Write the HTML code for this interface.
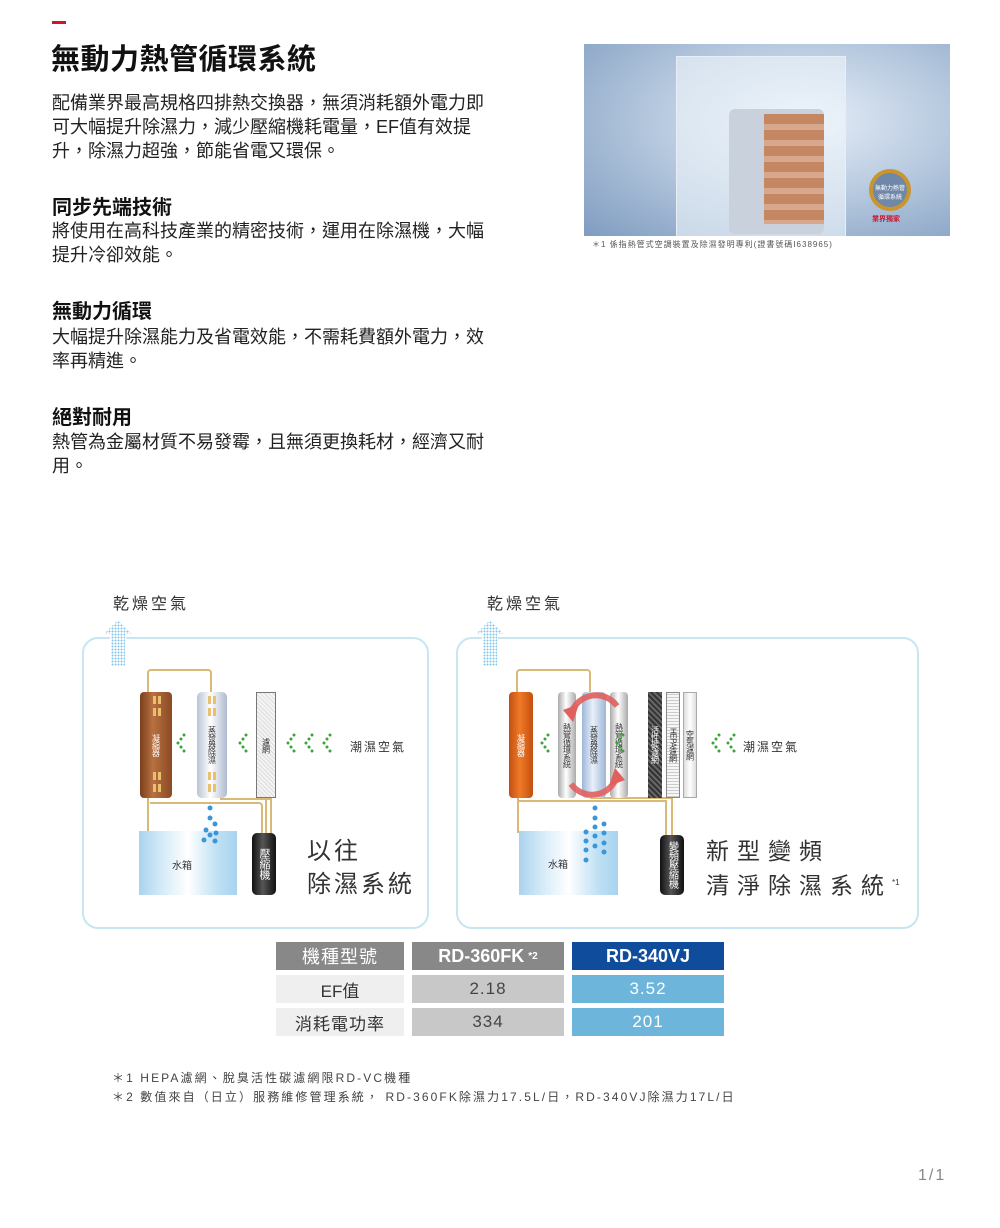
<!DOCTYPE html>
<html><head><meta charset="utf-8">
<style>
*{margin:0;padding:0;box-sizing:border-box}
body{width:1000px;height:1228px;background:#fff;position:relative;font-family:"Liberation Sans","Noto Sans CJK TC",sans-serif;color:#222;overflow:hidden}
.a{position:absolute}
.p{font-size:18px;line-height:24px;color:#222;white-space:nowrap}
.h{font-size:20px;font-weight:bold;color:#111}
.box{border:2px solid #c7e6f2;border-radius:16px}
.v{writing-mode:vertical-rl;font-size:8px;line-height:9px;display:flex;align-items:center;justify-content:center;letter-spacing:-0.5px;overflow:hidden}
.slot{position:absolute;width:3px;height:8px;background:#e8c070}
.pipe{position:absolute;border:2px solid #d9b878}
.tank{position:absolute;background:linear-gradient(90deg,#a9d3ee 0%,#cfe8f7 20%,#fff 50%,#bfe0f4 80%,#a9d3ee 100%);font-size:10px;color:#333}
.up{position:absolute;width:32px;height:48px}
.td{position:absolute;display:flex;align-items:center;justify-content:center;font-size:17px}
</style></head><body>
<div class="a" style="left:52px;top:21px;width:14px;height:3px;background:#d0142c"></div>
<div class="a" style="left:51px;top:36px;font-size:29px;font-weight:bold;color:#111;letter-spacing:0.5px">無動力熱管循環系統</div>
<div class="a p" style="left:52px;top:91px">配備業界最高規格四排熱交換器，無須消耗額外電力即<br>可大幅提升除濕力，減少壓縮機耗電量，EF值有效提<br>升，除濕力超強，節能省電又環保。</div>
<div class="a h" style="left:52px;top:191px">同步先端技術</div>
<div class="a p" style="left:52px;top:219px">將使用在高科技產業的精密技術，運用在除濕機，大幅<br>提升冷卻效能。</div>
<div class="a h" style="left:52px;top:295px">無動力循環</div>
<div class="a p" style="left:52px;top:325px">大幅提升除濕能力及省電效能，不需耗費額外電力，效<br>率再精進。</div>
<div class="a h" style="left:52px;top:401px">絕對耐用</div>
<div class="a p" style="left:52px;top:430px">熱管為金屬材質不易發霉，且無須更換耗材，經濟又耐<br>用。</div>

<!-- photo -->
<div class="a" style="left:584px;top:44px;width:366px;height:192px;background:radial-gradient(ellipse at 60% 40%,#e6eef8 0%,#b9cbe0 45%,#7f9cc0 100%);overflow:hidden">
 <div class="a" style="left:92px;top:12px;width:170px;height:185px;background:rgba(240,246,252,0.6);border:1px solid #e8eef6"></div>
 <div class="a" style="left:145px;top:65px;width:95px;height:125px;background:#c9d2dc;border-radius:6px"></div>
 <div class="a" style="left:180px;top:70px;width:60px;height:110px;background:repeating-linear-gradient(180deg,#c47a4c 0 10px,#d9a080 10px 16px);opacity:.85"></div>
 <div class="a" style="left:285px;top:125px;width:42px;height:42px;border-radius:50%;border:4px solid #c9952e;background:#6f88a8;font-size:6px;color:#fff;text-align:center;padding-top:10px">無動力熱管<br>循環系統</div>
 <div class="a" style="left:288px;top:170px;font-size:7px;color:#d0142c;font-weight:bold">業界獨家</div>
</div>
<div class="a" style="left:592px;top:239px;font-size:8px;color:#555;letter-spacing:1px">＊1 係指熱管式空調裝置及除濕發明專利(證書號碼I638965)</div>

<div class="a" style="left:113px;top:590px;font-size:16px;letter-spacing:3px;color:#333">乾燥空氣</div>
<div class="a" style="left:487px;top:590px;font-size:16px;letter-spacing:3px;color:#333">乾燥空氣</div>

<div class="a box" style="left:82px;top:637px;width:347px;height:292px"></div>
<div class="a box" style="left:456px;top:637px;width:463px;height:292px"></div>

<svg class="up" style="left:102px;top:618px" viewBox="0 0 32 48"><defs><pattern id="dp" width="3" height="3" patternUnits="userSpaceOnUse"><circle cx="1.5" cy="1.5" r="1" fill="#7cc4ea"/></pattern></defs><polygon points="16,0 32,16 24,16 24,48 8,48 8,16 0,16" fill="#fff"/><polygon points="16,2 30,16 23,16 23,48 9,48 9,16 2,16" fill="url(#dp)"/></svg>
<svg class="up" style="left:474px;top:618px" viewBox="0 0 32 48"><polygon points="16,0 32,16 24,16 24,48 8,48 8,16 0,16" fill="#fff"/><polygon points="16,2 30,16 23,16 23,48 9,48 9,16 2,16" fill="url(#dp)"/></svg>

<!-- LEFT diagram -->
<div class="pipe" style="left:147px;top:669px;width:65px;height:28px;border-bottom:none;border-radius:4px 4px 0 0"></div>
<div class="pipe" style="left:147px;top:795px;width:120px;height:40px;border-top:none;border-left:2px solid #d9b878;border-right:2px solid #d9b878;border-bottom:none"></div>
<div class="pipe" style="left:150px;top:802px;width:113px;height:33px;border-left:none;border-bottom:none;border-radius:0 4px 0 0"></div>
<div class="pipe" style="left:220px;top:798px;width:52px;height:38px;border-left:none;border-bottom:none"></div>
<div class="a v" style="left:140px;top:692px;width:32px;height:106px;background:linear-gradient(90deg,#7a3e1c,#b87040 40%,#8a4a24);border-radius:4px;color:#fff">凝縮器</div>
<div class="a v" style="left:197px;top:692px;width:30px;height:106px;background:linear-gradient(90deg,#b9c4d4,#fff 45%,#aebace);border-radius:5px;color:#333">蒸發器除濕</div>
<div class="slot" style="left:153px;top:696px"></div><div class="slot" style="left:158px;top:696px"></div><div class="slot" style="left:153px;top:708px"></div><div class="slot" style="left:158px;top:708px"></div><div class="slot" style="left:153px;top:772px"></div><div class="slot" style="left:158px;top:772px"></div><div class="slot" style="left:153px;top:784px"></div><div class="slot" style="left:158px;top:784px"></div>
<div class="slot" style="left:208px;top:696px"></div><div class="slot" style="left:213px;top:696px"></div><div class="slot" style="left:208px;top:708px"></div><div class="slot" style="left:213px;top:708px"></div><div class="slot" style="left:208px;top:772px"></div><div class="slot" style="left:213px;top:772px"></div><div class="slot" style="left:208px;top:784px"></div><div class="slot" style="left:213px;top:784px"></div>
<div class="a v" style="left:256px;top:692px;width:20px;height:106px;background:repeating-linear-gradient(45deg,#ddd 0 1px,#f4f4f4 1px 3px);border:1px solid #777;color:#333">濾網</div>
<svg class="a" style="left:174px;top:732px" width="200" height="26"><g fill="#3aa33a">
<circle cx="10" cy="3" r="1.5"/><circle cx="7" cy="7" r="1.5"/><circle cx="4" cy="11" r="1.5"/><circle cx="7" cy="15" r="1.5"/><circle cx="10" cy="19" r="1.5"/>
<circle cx="72" cy="3" r="1.5"/><circle cx="69" cy="7" r="1.5"/><circle cx="66" cy="11" r="1.5"/><circle cx="69" cy="15" r="1.5"/><circle cx="72" cy="19" r="1.5"/>
<circle cx="120" cy="3" r="1.5"/><circle cx="117" cy="7" r="1.5"/><circle cx="114" cy="11" r="1.5"/><circle cx="117" cy="15" r="1.5"/><circle cx="120" cy="19" r="1.5"/>
<circle cx="138" cy="3" r="1.5"/><circle cx="135" cy="7" r="1.5"/><circle cx="132" cy="11" r="1.5"/><circle cx="135" cy="15" r="1.5"/><circle cx="138" cy="19" r="1.5"/>
<circle cx="156" cy="3" r="1.5"/><circle cx="153" cy="7" r="1.5"/><circle cx="150" cy="11" r="1.5"/><circle cx="153" cy="15" r="1.5"/><circle cx="156" cy="19" r="1.5"/></g></svg>
<div class="a" style="left:350px;top:738px;font-size:12px;letter-spacing:2px;color:#333">潮濕空氣</div>
<div class="tank" style="left:139px;top:831px;width:98px;height:64px"><span class="a" style="left:33px;top:26px">水箱</span></div>
<svg class="a" style="left:198px;top:803px" width="30" height="48"><g fill="#3a96d8"><circle cx="12" cy="5" r="2.5"/><circle cx="12" cy="15" r="2.5"/><circle cx="17" cy="21" r="2.5"/><circle cx="8" cy="27" r="2.5"/><circle cx="18" cy="30" r="2.5"/><circle cx="12" cy="32" r="2.5"/><circle cx="6" cy="37" r="2.5"/><circle cx="17" cy="38" r="2.5"/></g></svg>
<div class="a v" style="left:252px;top:833px;width:24px;height:62px;background:linear-gradient(90deg,#111,#555 45%,#111);border-radius:5px;color:#fff;font-size:11px;line-height:12px">壓縮機</div>
<div class="a" style="left:307px;top:835px;font-size:24px;letter-spacing:3px;color:#333;line-height:33px">以往<br>除濕系統</div>

<!-- RIGHT diagram -->
<div class="pipe" style="left:516px;top:669px;width:75px;height:28px;border-bottom:none;border-radius:4px 4px 0 0"></div>
<div class="pipe" style="left:517px;top:795px;width:150px;height:38px;border-top:none;border-left:2px solid #d9b878;border-bottom:none;border-right:none"></div>
<div class="pipe" style="left:519px;top:800px;width:148px;height:38px;border-left:none;border-bottom:none"></div>
<div class="pipe" style="left:590px;top:797px;width:83px;height:40px;border-left:none;border-bottom:none"></div>
<div class="a v" style="left:509px;top:692px;width:24px;height:106px;background:linear-gradient(90deg,#c24f10,#f07a28 45%,#c24f10);border-radius:4px;color:#fff">凝縮器</div>
<div class="a v" style="left:558px;top:692px;width:18px;height:106px;background:linear-gradient(90deg,#aaa,#fff 45%,#aaa);border-radius:4px;color:#333">熱管循環系統</div>
<div class="a v" style="left:582px;top:692px;width:24px;height:106px;background:linear-gradient(90deg,#9eb6d8,#e8f0fa 45%,#9eb6d8);border-radius:4px;color:#333">蒸發器除濕</div>
<div class="a v" style="left:610px;top:692px;width:18px;height:106px;background:linear-gradient(90deg,#aaa,#fff 45%,#aaa);border-radius:4px;color:#333">熱管循環系統</div>
<svg class="a" style="left:555px;top:684px" width="78" height="122"><g fill="none" stroke="#e0605e" stroke-width="6" opacity=".9"><path d="M16,30 A26,26 0 0 1 62,22"/><path d="M62,92 A26,26 0 0 1 16,100"/></g><polygon points="8,26 24,20 18,38" fill="#e0605e"/><polygon points="70,96 54,102 60,84" fill="#e0605e"/></svg>
<div class="a v" style="left:648px;top:692px;width:14px;height:106px;background:repeating-linear-gradient(45deg,#333 0 2px,#666 2px 4px);color:#fff">活性碳濾網</div>
<div class="a v" style="left:666px;top:692px;width:14px;height:106px;background:repeating-linear-gradient(0deg,#ccc 0 1px,#f6f6f6 1px 3px);border:1px solid #888;color:#333">HEPA濾網</div>
<div class="a v" style="left:683px;top:692px;width:14px;height:106px;background:linear-gradient(90deg,#ddd,#fff 50%,#ddd);border:1px solid #aaa;color:#333">空氣濾網</div>
<svg class="a" style="left:538px;top:732px" width="200" height="26"><g fill="#3aa33a">
<circle cx="10" cy="3" r="1.5"/><circle cx="7" cy="7" r="1.5"/><circle cx="4" cy="11" r="1.5"/><circle cx="7" cy="15" r="1.5"/><circle cx="10" cy="19" r="1.5"/>
<circle cx="85" cy="3" r="1.5"/><circle cx="82" cy="7" r="1.5"/><circle cx="79" cy="11" r="1.5"/><circle cx="82" cy="15" r="1.5"/><circle cx="85" cy="19" r="1.5"/>
<circle cx="181" cy="3" r="1.5"/><circle cx="178" cy="7" r="1.5"/><circle cx="175" cy="11" r="1.5"/><circle cx="178" cy="15" r="1.5"/><circle cx="181" cy="19" r="1.5"/>
<circle cx="196" cy="3" r="1.5"/><circle cx="193" cy="7" r="1.5"/><circle cx="190" cy="11" r="1.5"/><circle cx="193" cy="15" r="1.5"/><circle cx="196" cy="19" r="1.5"/></g></svg>
<div class="a" style="left:743px;top:738px;font-size:12px;letter-spacing:2px;color:#333">潮濕空氣</div>
<div class="tank" style="left:519px;top:831px;width:99px;height:64px"><span class="a" style="left:29px;top:25px">水箱</span></div>
<svg class="a" style="left:575px;top:803px" width="40" height="64"><g fill="#3a96d8"><circle cx="20" cy="5" r="2.5"/><circle cx="20" cy="15" r="2.5"/><circle cx="20" cy="24" r="2.5"/><circle cx="29" cy="21" r="2.5"/><circle cx="11" cy="29" r="2.5"/><circle cx="29" cy="30" r="2.5"/><circle cx="20" cy="33" r="2.5"/><circle cx="11" cy="38" r="2.5"/><circle cx="29" cy="40" r="2.5"/><circle cx="20" cy="43" r="2.5"/><circle cx="11" cy="47" r="2.5"/><circle cx="29" cy="49" r="2.5"/><circle cx="11" cy="57" r="2.5"/></g></svg>
<div class="a v" style="left:660px;top:835px;width:24px;height:60px;background:linear-gradient(90deg,#111,#555 45%,#111);border-radius:5px;color:#fff;font-size:10px;line-height:11px">變頻壓縮機</div>
<div class="a" style="left:706px;top:835px;font-size:23px;letter-spacing:8px;color:#333;line-height:32px">新型變頻<br>清淨除濕系統<sup style="font-size:8px;letter-spacing:0">*1</sup></div>

<!-- table -->
<div class="td" style="left:276px;top:942px;width:128px;height:28px;background:#888;color:#fff;font-size:18px;letter-spacing:1px">機種型號</div>
<div class="td" style="left:412px;top:942px;width:152px;height:28px;background:#888;color:#fff;font-weight:bold;font-size:18px">RD-360FK<sup style="font-size:10px;margin-left:4px">*2</sup></div>
<div class="td" style="left:572px;top:942px;width:152px;height:28px;background:#0f4d9c;color:#fff;font-weight:bold;font-size:18px">RD-340VJ</div>
<div class="td" style="left:276px;top:975px;width:128px;height:28px;background:#efefef;color:#333">EF值</div>
<div class="td" style="left:412px;top:975px;width:152px;height:28px;background:#c8c8c8;color:#444;letter-spacing:1px">2.18</div>
<div class="td" style="left:572px;top:975px;width:152px;height:28px;background:#6db5db;color:#fff;letter-spacing:1px">3.52</div>
<div class="td" style="left:276px;top:1008px;width:128px;height:28px;background:#efefef;color:#333;letter-spacing:1px">消耗電功率</div>
<div class="td" style="left:412px;top:1008px;width:152px;height:28px;background:#c8c8c8;color:#444;letter-spacing:1px">334</div>
<div class="td" style="left:572px;top:1008px;width:152px;height:28px;background:#6db5db;color:#fff;letter-spacing:1px">201</div>

<div class="a" style="left:112px;top:1069px;font-size:12px;letter-spacing:2.1px;color:#444;line-height:19px;white-space:nowrap">＊1 HEPA濾網、脫臭活性碳濾網限RD-VC機種<br>＊2 數值來自（日立）服務維修管理系統， RD-360FK除濕力17.5L/日，RD-340VJ除濕力17L/日</div>
<div class="a" style="left:918px;top:1167px;font-size:16px;color:#888;letter-spacing:2px">1/1</div>
</body></html>
